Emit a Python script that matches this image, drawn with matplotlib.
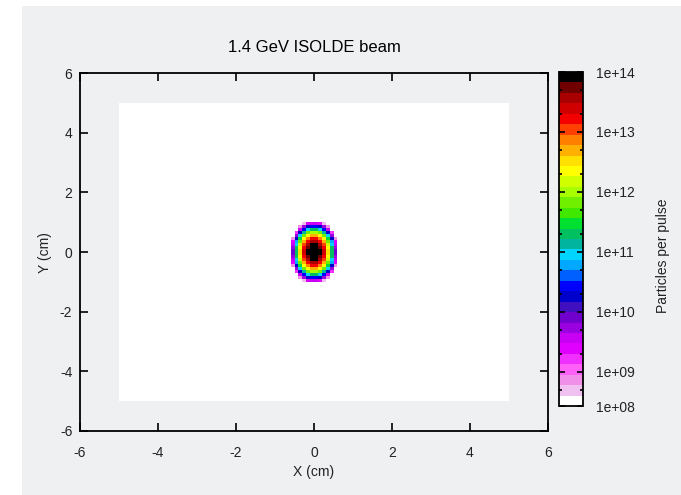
import numpy as np
import matplotlib
matplotlib.use('Agg')
import matplotlib.pyplot as plt
from matplotlib.colors import ListedColormap, BoundaryNorm
from matplotlib.patches import Rectangle

plt.rcParams['font.family'] = ['Liberation Sans', 'DejaVu Sans']

title = '1.4 GeV ISOLDE beam'
x_label = 'X (cm)'
y_label = 'Y (cm)'
cbar_label = 'Particles per pulse'

# colour bands of the colour bar, lowest first
band_colors = ['#ffffff', '#f0c0f0', '#f090e8', '#ff60f8', '#f030ff', '#e000ff',
               '#c800f4', '#9a00e0', '#7000cc', '#4010c0', '#0000cc', '#0000ff',
               '#0060ff', '#00a8ff', '#00d4ff', '#00b4a0', '#00c060', '#00e030',
               '#40e800', '#70f000', '#a8ff00', '#d0ff00', '#ffff00', '#ffe000',
               '#ffb000', '#ff8000', '#ff4000', '#f50000', '#d00000', '#a80000',
               '#700000', '#000000']

# log10 range covered by the colour bar
log_lo, log_hi = 8.43, 14.0
cbar_ticks = [8.43, 9, 10, 11, 12, 13, 14]
cbar_ticklabels = ['1e+08', '1e+09', '1e+10', '1e+11', '1e+12', '1e+13', '1e+14']
axis_ticks = [-6, -4, -2, 0, 2, 4, 6]

# scored region: 1 mm bins from -5 to 5 cm
n_bins = 100
extent = 5.0

# beam spot, one char per bin = colour band (0-9, a-v), '.' = below scale
# rows from y=+1.0 down to y=-1.0 cm, columns from x=-0.6 to x=+0.6 cm
beam_rows = [
    "...156651...",
    "..27abba72..",
    "..6beggeb6..",
    ".4afjkkjfa4.",
    ".7ejmoomje7.",
    "2ahmprrpmha2",
    "5djorttrojd5",
    "6elqtvvtqle6",
    "7gmruvvurmg7",
    "8gnsvvvvsng8",
    "8gnsvvvvsng8",
    "7gmruvvurmg7",
    "6elqtvvtqle6",
    "5djorttrojd5",
    "2ahmprrpmha2",
    ".7ejmoomje7.",
    ".4afjkkjfa4.",
    "..6beggeb6..",
    "..27abba72..",
    "...156651...",
]
beam_x0, beam_y0 = -0.6, -1.0

codes = '0123456789abcdefghijklmnopqrstuv'
band_w = (log_hi - log_lo) / len(band_colors)
blob = np.array([[0.0 if c == '.' else log_lo + (codes.index(c) + 0.5) * band_w
                  for c in row] for row in beam_rows])
blob = np.flipud(blob)

grid = np.zeros((n_bins, n_bins))
bw = 2 * extent / n_bins
iy = int(round((beam_y0 + extent) / bw))
ix = int(round((beam_x0 + extent) / bw))
grid[iy:iy + blob.shape[0], ix:ix + blob.shape[1]] = blob
edges = np.linspace(-extent, extent, n_bins + 1)

cmap = ListedColormap(band_colors)
cmap.set_under('white')
bounds = np.linspace(log_lo, log_hi, len(band_colors) + 1)
norm = BoundaryNorm(bounds, cmap.N)

W, H = 681, 495
fig = plt.figure(figsize=(W / 100, H / 100), dpi=100, facecolor='white')
fig.add_artist(Rectangle((22 / W, 0), 1 - 22 / W, (H - 6) / H, transform=fig.transFigure,
                         facecolor='#eff0f2', edgecolor='none', zorder=-5))

ax = fig.add_axes([80 / W, (H - 431) / H, 468 / W, 358 / H])
ax.set_facecolor('none')
mesh = ax.pcolormesh(edges, edges, grid, cmap=cmap, norm=norm)
ax.set_xlim(-6, 6)
ax.set_ylim(-6, 6)
ax.set_xticks(axis_ticks)
ax.set_yticks(axis_ticks)
ax.set_xticklabels([str(t) for t in axis_ticks])
ax.set_yticklabels([str(t) for t in axis_ticks])
ax.tick_params(direction='in', length=6, width=1.2, top=True, right=True,
               labelsize=10, labelcolor='#222222')
ax.tick_params(axis='x', pad=11)
ax.tick_params(axis='y', pad=5.5)
for s in ax.spines.values():
    s.set_linewidth(1.3)

fig.text(314 / W, (H - 48) / H, title, ha='center', va='center', fontsize=12)
fig.text(314 / W, (H - 472) / H, x_label, ha='center', va='center', fontsize=10, color='#222222')
fig.text(45 / W, (H - 253) / H, y_label, ha='center', va='center', fontsize=10,
         rotation=90, color='#222222')

cax = fig.add_axes([559 / W, (H - 406) / H, 24 / W, 334 / H])
cb = fig.colorbar(mesh, cax=cax)
cb.set_ticks(cbar_ticks, labels=cbar_ticklabels)
minor = [d + np.log10(m) for d in range(8, 14) for m in (2, 5)
         if log_lo < d + np.log10(m) < log_hi]
cb.ax.set_yticks(minor, minor=True)
cb.ax.tick_params(which='both', direction='in', left=True, right=True, width=1.2,
                  labelsize=10, labelcolor='#222222', pad=9)
cb.ax.tick_params(which='major', length=4)
cb.ax.tick_params(which='minor', length=2.5)
cb.outline.set_linewidth(1.3)
fig.text(663 / W, (H - 256) / H, cbar_label, ha='center', va='center', fontsize=10,
         rotation=90, color='#222222')

fig.savefig('out.png', dpi=100)
